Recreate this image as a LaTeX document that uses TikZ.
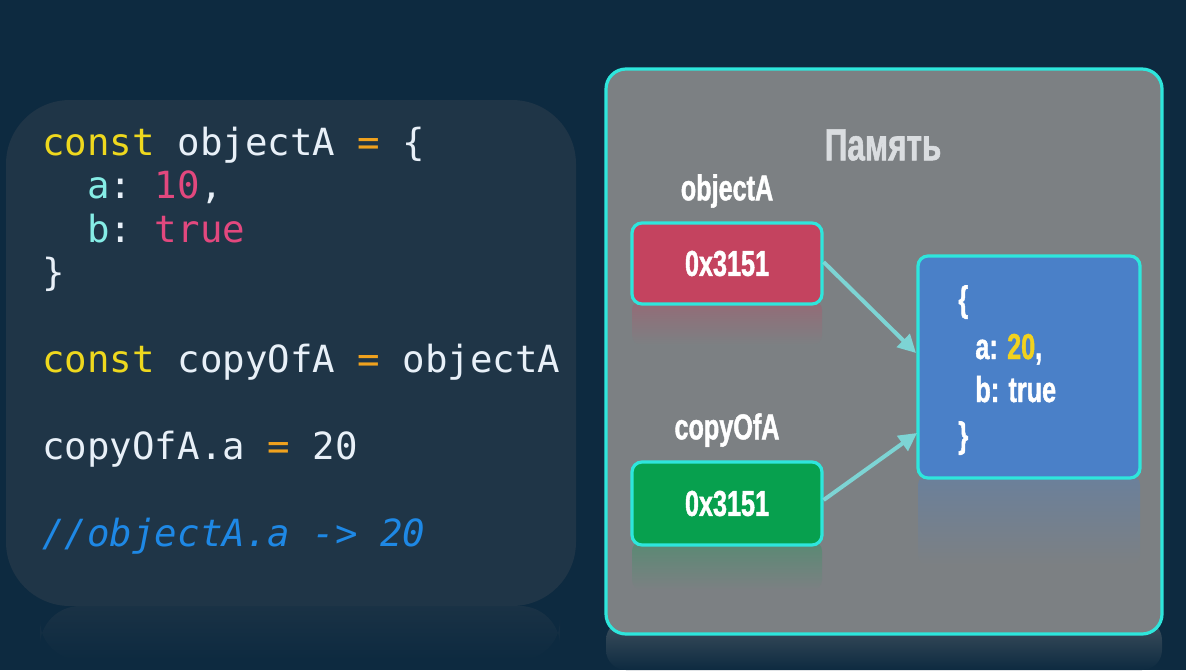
\documentclass[tikz,border=0pt]{standalone}
\usepackage{fontspec}
\usetikzlibrary{arrows.meta}
\newfontfamily\codefont{DejaVu Sans Mono}
\newfontfamily\condfont[FakeStretch=0.70,BoldFeatures={FakeBold=1.2}]{Liberation Sans}
\definecolor{bgc}{HTML}{0D2A40}
\definecolor{panelc}{HTML}{1F3547}
\definecolor{grayc}{HTML}{7C8083}
\definecolor{cyanc}{HTML}{2EE6DC}
\definecolor{kwc}{HTML}{EED81E}
\definecolor{idc}{HTML}{E8F0F8}
\definecolor{opc}{HTML}{F0A21E}
\definecolor{keyc}{HTML}{86EDE6}
\definecolor{litc}{HTML}{E2487E}
\definecolor{cmc}{HTML}{1E88E5}
\definecolor{redc}{HTML}{C4435F}
\definecolor{greenc}{HTML}{07A04E}
\definecolor{bluec}{HTML}{4A80C8}
\definecolor{arrc}{HTML}{7DD4D4}
\definecolor{titlec}{HTML}{DADDE0}
\definecolor{yelc}{HTML}{F2D21E}
\begin{document}
\begin{tikzpicture}[x=0.5pt,y=-0.5pt,
  codeline/.style={anchor=base west,inner sep=0,font=\codefont\fontsize{18.7}{22}\selectfont,text=idc},
  lbl/.style={font=\condfont\bfseries\fontsize{18}{20}\selectfont,text=white,inner sep=0},
  membox/.style={draw=cyanc,line width=1.6pt,rounded corners=5pt},
  ptr/.style={draw=arrc,line width=2pt,-{Triangle[length=9pt,width=9pt]}}]
\useasboundingbox (0,0) rectangle (1186,670);
\fill[bgc] (0,0) rectangle (1186,670);
% left code panel
\shade[top color=panelc!70!bgc,bottom color=bgc,rounded corners=20pt] (40,606) rectangle (560,660);
\fill[panelc,rounded corners=32pt] (6,100) rectangle (576,606);
% code
\node[codeline] (l1) at (42,155) {\textcolor{kwc}{const} objectA \textcolor{opc}{=} \{};
\node[codeline] (l2) at (42,198.5) {\phantom{xx}\textcolor{keyc}{a}:\ \textcolor{litc}{10},};
\node[codeline] (l3) at (42,242) {\phantom{xx}\textcolor{keyc}{b}:\ \textcolor{litc}{true}};
\node[codeline] (l4) at (42,285.5) {\}};
\node[codeline] (l5) at (42,372.5) {\textcolor{kwc}{const} copyOfA \textcolor{opc}{=} objectA};
\node[codeline] (l6) at (42,459.5) {copyOfA.a \textcolor{opc}{=} 20};
\node[codeline,text=cmc] (l7) at (42,546.5) {\itshape //objectA.a -> 20};
% memory panel
\shade[top color=grayc!45!bgc,bottom color=bgc,rounded corners=10pt] (606,620) rectangle (1162,670);
\draw[fill=grayc,draw=cyanc,line width=1.6pt,rounded corners=10pt] (606,69) rectangle (1162,634);
\node[font=\condfont\bfseries\fontsize{22.5}{26}\selectfont,text=titlec,inner sep=0] (title) at (883,145) {Память};
% reflections of boxes
\shade[top color=redc!35!grayc,bottom color=grayc,rounded corners=5pt] (632,300) rectangle (822,345);
\shade[top color=greenc!30!grayc,bottom color=grayc,rounded corners=5pt] (632,541) rectangle (822,590);
\shade[top color=bluec!35!grayc,bottom color=grayc,rounded corners=5pt] (918,475) rectangle (1140,565);
% pointer boxes
\node[lbl] (nA) at (727,191) {objectA};
\node[lbl] (nC) at (727,430) {copyOfA};
\node[membox,fill=redc,minimum width=95pt,minimum height=40.5pt,lbl] (bA) at (727,263.5) {0x3151};
\node[membox,fill=greenc,minimum width=95pt,minimum height=41.5pt,lbl] (bC) at (727,503.5) {0x3151};
% object box
\node[membox,fill=bluec,minimum width=111pt,minimum height=111pt] (obj) at (1029,367) {};
\node[lbl,anchor=west] (ob1) at (958,302) {\{};
\node[lbl,anchor=base west] (ob2) at (975,359) {a: \textcolor{yelc}{20},};
\node[lbl,anchor=base west] (ob3) at (975,402) {b: true};
\node[lbl,anchor=west] (ob4) at (958,438) {\}};
% arrows
\draw[ptr] (bA.east |- 0,262) -- (916,353);
\draw[ptr] (bC.east |- 0,500) -- (917,433);
\end{tikzpicture}
\end{document}
